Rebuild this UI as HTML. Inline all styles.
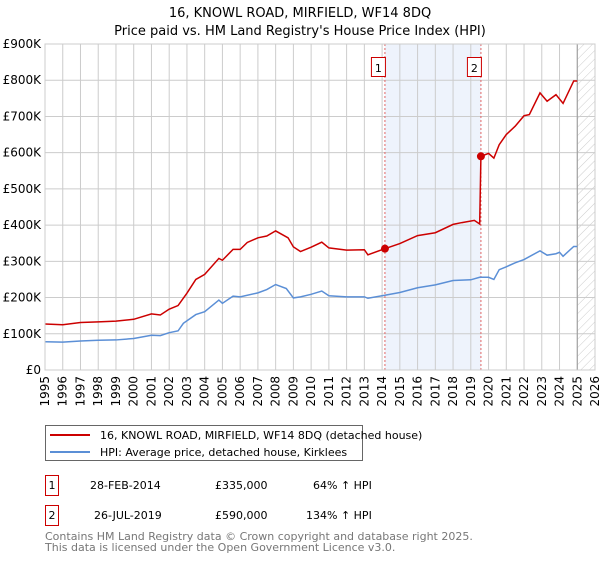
<!DOCTYPE html>
<html><head><meta charset="utf-8"><style>
body{margin:0;background:#fff;font-family:"Liberation Sans","DejaVu Sans",sans-serif;}
svg text{font-family:"DejaVu Sans","Liberation Sans",sans-serif;}
</style></head><body>
<svg id="chart" width="600" height="560" viewBox="0 0 600 560" xmlns="http://www.w3.org/2000/svg">
<defs><pattern id="hatch" width="6" height="6" patternUnits="userSpaceOnUse" patternTransform="rotate(45)"><line x1="0" y1="0" x2="0" y2="6" stroke="#ccc" stroke-width="1"/></pattern></defs>
<text x="300" y="17" text-anchor="middle" font-size="13">16, KNOWL ROAD, MIRFIELD, WF14 8DQ</text>
<text x="300" y="35" text-anchor="middle" font-size="13">Price paid vs. HM Land Registry's House Price Index (HPI)</text>
<g id="plot"></g>
<g>
<rect x="45.5" y="425.5" width="317" height="35" fill="#fff" stroke="#666"/>
<line x1="50" y1="435" x2="90" y2="435" stroke="#cc0000" stroke-width="2"/>
<text x="100" y="439" font-size="11">16, KNOWL ROAD, MIRFIELD, WF14 8DQ (detached house)</text>
<line x1="50" y1="452" x2="90" y2="452" stroke="#5b8fd6" stroke-width="2"/>
<text x="100" y="456" font-size="11">HPI: Average price, detached house, Kirklees</text>
</g>
<g font-size="11">
<rect x="45.5" y="475.5" width="13" height="20" fill="#fff" stroke="#cc0000"/>
<text x="52" y="489" text-anchor="middle">1</text>
<text x="90" y="489">28-FEB-2014</text><text x="215" y="489">£335,000</text><text x="313" y="489">64% ↑ HPI</text>
<rect x="45.5" y="505.5" width="13" height="20" fill="#fff" stroke="#cc0000"/>
<text x="52" y="519" text-anchor="middle">2</text>
<text x="94" y="519">26-JUL-2019</text><text x="215" y="519">£590,000</text><text x="306" y="519">134% ↑ HPI</text>
</g>
<text x="45" y="540" font-size="11" fill="#777">Contains HM Land Registry data © Crown copyright and database right 2025.</text>
<text x="45" y="551" font-size="11" fill="#777">This data is licensed under the Open Government Licence v3.0.</text>
</svg>
<script>
const hpiYears=[1995,1996,1997,1998,1999,2000,2001,2001.5,2002,2002.5,2002.8,2003.5,2004,2004.8,2005,2005.6,2006,2007,2007.5,2008,2008.6,2009,2009.4,2010,2010.6,2011,2012,2013,2013.2,2014,2015,2016,2017,2018,2019,2019.5,2020,2020.3,2020.6,2021,2021.5,2022,2022.9,2023.3,2023.8,2024,2024.2,2024.8,2025];
const hpiValues=[78,77,80,82,83,87,96,95,103,108,129,153,161,193,184,204,202,213,222,236,225,199,202,209,218,205,202,202,198,205,214,227,235,247,249,256,256,250,277,285,296,305,329,317,321,325,314,341,341];
const priceYears=[1995,1996,1997,1998,1999,2000,2001,2001.5,2002,2002.5,2003,2003.5,2004,2004.8,2005,2005.6,2006,2006.4,2007,2007.5,2008,2008.7,2009,2009.4,2010,2010.6,2011,2012,2013,2013.2,2014.16,2015,2016,2017,2018,2018.5,2019.2,2019.5,2019.57,2020,2020.3,2020.6,2021,2021.5,2022,2022.3,2022.9,2023.3,2023.8,2024.2,2024.8,2025];
const priceValues=[127,125,131,133,135,140,155,152,168,178,212,250,264,308,303,333,333,352,365,370,384,365,340,327,339,353,337,331,332,318,335,349,371,379,402,407,413,403,590,598,585,622,650,673,702,705,765,742,760,736,798,798];
const saleYears=[2014.16,2019.57];
const saleValues=[335,590];
const saleLabels=["1","2"];
const yTicks=[0,100,200,300,400,500,600,700,800,900];
const yTickLabels=["£0","£100K","£200K","£300K","£400K","£500K","£600K","£700K","£800K","£900K"];
const xTicks=[1995,1996,1997,1998,1999,2000,2001,2002,2003,2004,2005,2006,2007,2008,2009,2010,2011,2012,2013,2014,2015,2016,2017,2018,2019,2020,2021,2022,2023,2024,2025,2026];
const dataEnd=2025;

const L=45,R=595,T=44,B=370,x0=1995,x1=2026,yMax=900;
const X=v=>L+(v-x0)/(x1-x0)*(R-L);
const Y=v=>B-v/yMax*(B-T);
const NS="http://www.w3.org/2000/svg";
const g=document.getElementById('plot');
function mk(t,a){const e=document.createElementNS(NS,t);for(const k in a)e.setAttribute(k,a[k]);g.appendChild(e);return e;}

const band=mk('rect',{x:X(saleYears[0]),y:T,width:X(saleYears[1])-X(saleYears[0]),height:B-T,fill:'#eef3fc'});


const hatch=mk('rect',{x:X(dataEnd),y:T,width:R-X(dataEnd),height:B-T,fill:'url(#hatch)'});



yTicks.forEach((v,i)=>{
  const l=mk('line',{x1:L,x2:R,y1:Y(v),y2:Y(v),stroke:'#ccc','stroke-width':1});
  
  
  const t=mk('text',{x:L-4,y:Y(v)+4,'text-anchor':'end','font-size':12});
  t.textContent=yTickLabels[i];
  
  
});
xTicks.forEach(v=>{
  const l=mk('line',{x1:X(v),x2:X(v),y1:T,y2:B,stroke:'#ccc','stroke-width':1});
  
  
  const t=mk('text',{x:0,y:0,'text-anchor':'end','font-size':12,transform:`translate(${X(v)+4},${B+6}) rotate(-90)`});
  t.textContent=v;
  
  
});
const endLine=mk('line',{x1:X(dataEnd),x2:X(dataEnd),y1:T,y2:B,stroke:'#999','stroke-width':1});



saleYears.forEach((v,i)=>{
  const l=mk('line',{x1:X(v),x2:X(v),y1:T,y2:B,stroke:'#e06666','stroke-width':1,'stroke-dasharray':'2,2'});
  
  
  const r=mk('rect',{x:X(v)-13.5,y:57.5,width:14,height:19,fill:'#fff',stroke:'#cc0000'});
  
  
  const t=mk('text',{x:X(v)-6.5,y:72,'text-anchor':'middle','font-size':11});
  t.textContent=saleLabels[i];
  
  
});

const hp=mk('polyline',{points:hpiYears.map((v,i)=>X(v)+','+Y(hpiValues[i])).join(' '),fill:'none',stroke:'#5b8fd6','stroke-width':1.5});


const pp=mk('polyline',{points:priceYears.map((v,i)=>X(v)+','+Y(priceValues[i])).join(' '),fill:'none',stroke:'#cc0000','stroke-width':1.5});


saleYears.forEach((v,i)=>{
  const c=mk('circle',{cx:X(v),cy:Y(saleValues[i]),r:4,fill:'#cc0000'});
  
  
});
const frame=mk('rect',{x:L,y:T,width:R-L,height:B-T,fill:'none',stroke:'#ccc'});


</script>
</body></html>
